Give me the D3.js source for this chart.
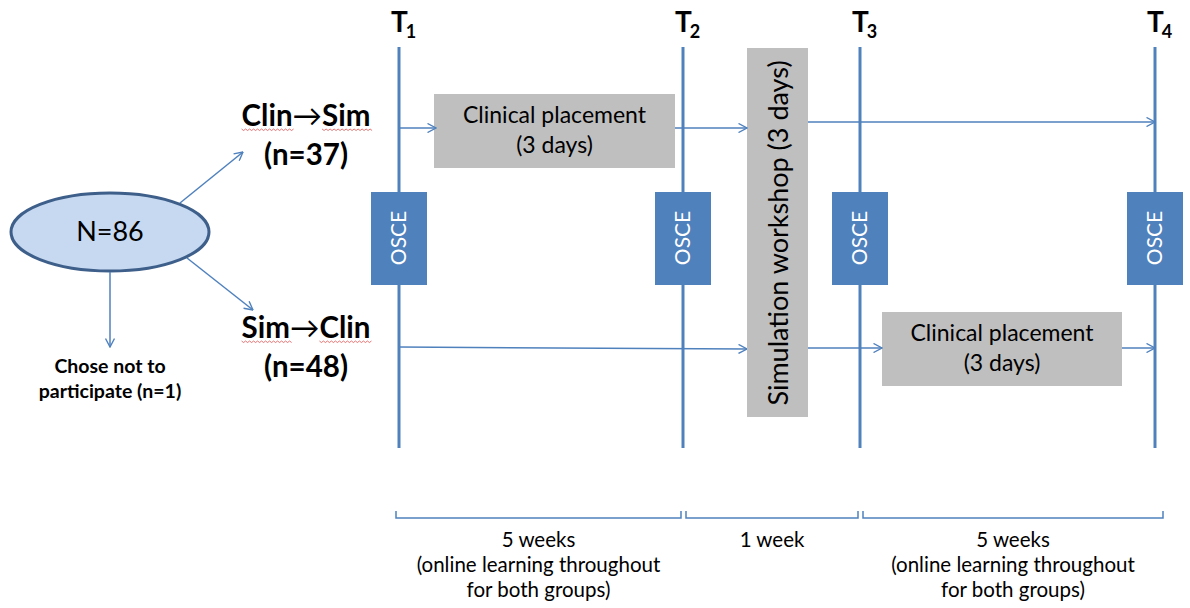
<!DOCTYPE html>
<html><head><meta charset="utf-8">
<script src="https://cdn.jsdelivr.net/npm/d3@7"></script>
<style>body{margin:0;background:#fff;}svg{display:block;font-family:Lato,"Open Sans",sans-serif;}</style>
</head><body>
<svg id="c" width="1190" height="608"></svg>
<script>
// ---- data ----
const timepoints = ["1", "2", "3", "4"];
const groups = [
  {from: "Clin", to: "Sim", n: 37},
  {from: "Sim", to: "Clin", n: 48}
];
const total = 86;
const declined = 1;
const assessment = "OSCE";
const periods = [
  {from: "1", to: "2", label: ["5 weeks", "(online learning throughout", "for both groups)"]},
  {from: "2", to: "3", label: ["1 week"]},
  {from: "3", to: "4", label: ["5 weeks", "(online learning throughout", "for both groups)"]}
];
const placementLabel = ["Clinical placement", "(3 days)"];
const workshopLabel = "Simulation workshop (3 days)";

// ---- layout ----
const svg = d3.select("#c");
const blue = "#4f81bd", gray = "#bfbfbf";
const x = d3.scaleOrdinal().domain(timepoints).range([399, 683, 860, 1155]);
const rowY = d3.scaleOrdinal().domain([0, 1]).range([128, 348]);

const defs = svg.append("defs");
defs.append("marker").attr("id", "ah").attr("viewBox", "0 0 10 10").attr("refX", 9.5).attr("refY", 5)
  .attr("markerWidth", 10).attr("markerHeight", 10).attr("markerUnits", "userSpaceOnUse").attr("orient", "auto")
  .append("path").attr("d", "M1,0.5 L9.5,5 L1,9.5").attr("fill", "none").attr("stroke", blue).attr("stroke-width", 1.4);

function arrow(x1, y1, x2, y2) {
  svg.append("line").attr("x1", x1).attr("y1", y1).attr("x2", x2).attr("y2", y2)
    .attr("stroke", blue).attr("stroke-width", 1.5).attr("marker-end", "url(#ah)");
}

// time lines
timepoints.forEach(t => {
  svg.append("line").attr("x1", x(t)).attr("x2", x(t)).attr("y1", 47).attr("y2", 448)
    .attr("stroke", blue).attr("stroke-width", 3);
  const lab = svg.append("text").attr("x", x(t) - 8).attr("y", 32).attr("text-anchor", "start")
    .attr("font-weight", "bold").attr("font-size", 28).attr("fill", "#000");
  lab.append("tspan").text("T");
  lab.append("tspan").attr("font-size", 18).attr("dx", -2).attr("dy", 6).text(t);
});

// workshop box
const wx0 = 747, wx1 = 808;
svg.append("rect").attr("x", wx0).attr("y", 48).attr("width", wx1 - wx0).attr("height", 369).attr("fill", gray);
svg.append("text").attr("transform", `translate(${(wx0 + wx1) / 2 + 10},233) rotate(-90)`)
  .attr("text-anchor", "middle").attr("font-size", 27).attr("fill", "#000").text(workshopLabel);

// placement boxes
const place = [
  {x0: 434, x1: 675, y0: 94, y1: 168},
  {x0: 882, x1: 1122, y0: 312, y1: 386}
];
place.forEach(p => {
  svg.append("rect").attr("x", p.x0).attr("y", p.y0).attr("width", p.x1 - p.x0).attr("height", p.y1 - p.y0).attr("fill", gray);
  placementLabel.forEach((s, i) => {
    svg.append("text").attr("x", (p.x0 + p.x1) / 2).attr("y", p.y0 + 29 + i * 30).attr("text-anchor", "middle")
      .attr("font-size", 23).attr("fill", "#000").text(s);
  });
});

// arrows of group 1 (Clin -> Sim)
arrow(x("1"), rowY(0), place[0].x0 + 2, rowY(0));
arrow(place[0].x1, rowY(0), wx0, rowY(0));
arrow(wx1, 122, x("4"), 122);
// arrows of group 2 (Sim -> Clin)
arrow(x("1"), rowY(1) - 1, wx0, rowY(1) + 1);
arrow(wx1, rowY(1), place[1].x0, rowY(1));
arrow(place[1].x1, rowY(1), x("4"), rowY(1));

// OSCE boxes
timepoints.forEach(t => {
  svg.append("rect").attr("x", x(t) - 28).attr("y", 192).attr("width", 56).attr("height", 93).attr("fill", blue);
  svg.append("text").attr("transform", `translate(${x(t) + 7},238) rotate(-90)`).attr("text-anchor", "middle")
    .attr("font-size", 21).attr("fill", "#fff").text(assessment);
});

// ellipse
svg.append("ellipse").attr("cx", 110).attr("cy", 232).attr("rx", 99).attr("ry", 39)
  .attr("fill", "#c6d9f1").attr("stroke", "#3e5f8a").attr("stroke-width", 3);
svg.append("text").attr("x", 110).attr("y", 241).attr("text-anchor", "middle").attr("font-size", 27)
  .attr("fill", "#000").text("N=" + total);

arrow(180, 203, 243, 152);
arrow(187, 258, 253, 310);
arrow(110, 272, 110, 347);

// group labels
const gy = [126, 338];
groups.forEach((g, i) => {
  const t = svg.append("text").attr("x", 306).attr("y", gy[i]).attr("text-anchor", "middle")
    .attr("font-size", 29.5).attr("font-weight", "bold").attr("fill", "#000");
  t.append("tspan").text(g.from);
  t.append("tspan").attr("font-weight", "normal").text("\u2192");
  t.append("tspan").text(g.to);
  svg.append("text").attr("x", 306).attr("y", gy[i] + 39).attr("text-anchor", "middle")
    .attr("font-size", 29.5).attr("font-weight", "bold").attr("fill", "#000").text(`(n=${g.n})`);
  // spell-check squiggles
  [0, 2].forEach(k => {
    const n = t.node();
    const start = n.getStartPositionOfChar(k === 0 ? 0 : g.from.length + 1).x;
    const end = n.getEndPositionOfChar(k === 0 ? g.from.length - 1 : g.from.length + g.to.length).x;
    const yy = gy[i] + 3;
    let d = `M${start},${yy}`;
    for (let xx = start, j = 0; xx < end; xx += 2, j++) d += ` L${xx + 2},${yy + (j % 2 ? 0 : 1.5)}`;
    svg.append("path").attr("d", d).attr("fill", "none").attr("stroke", "#e05050").attr("stroke-width", 0.8);
  });
});

// declined text
["Chose not to", `participate (n=${declined})`].forEach((s, i) => {
  svg.append("text").attr("x", 110).attr("y", 373 + i * 25).attr("text-anchor", "middle")
    .attr("font-size", 19.5).attr("font-weight", "bold").attr("fill", "#000").text(s);
});

// period brackets
periods.forEach((p, i) => {
  const x0 = x(p.from) - 3 + (i ? 6 : 0), x1 = x(p.to) - 2 + (i === 2 ? 10 : 0);
  svg.append("path").attr("d", `M${x0},511 V518 H${x1} V511`).attr("fill", "none")
    .attr("stroke", blue).attr("stroke-width", 1.5);
  p.label.forEach((s, k) => {
    svg.append("text").attr("x", (x0 + x1) / 2).attr("y", 547 + k * 25).attr("text-anchor", "middle")
      .attr("font-size", 20.5).attr("fill", "#000").text(s);
  });
});
</script>
</body></html>
